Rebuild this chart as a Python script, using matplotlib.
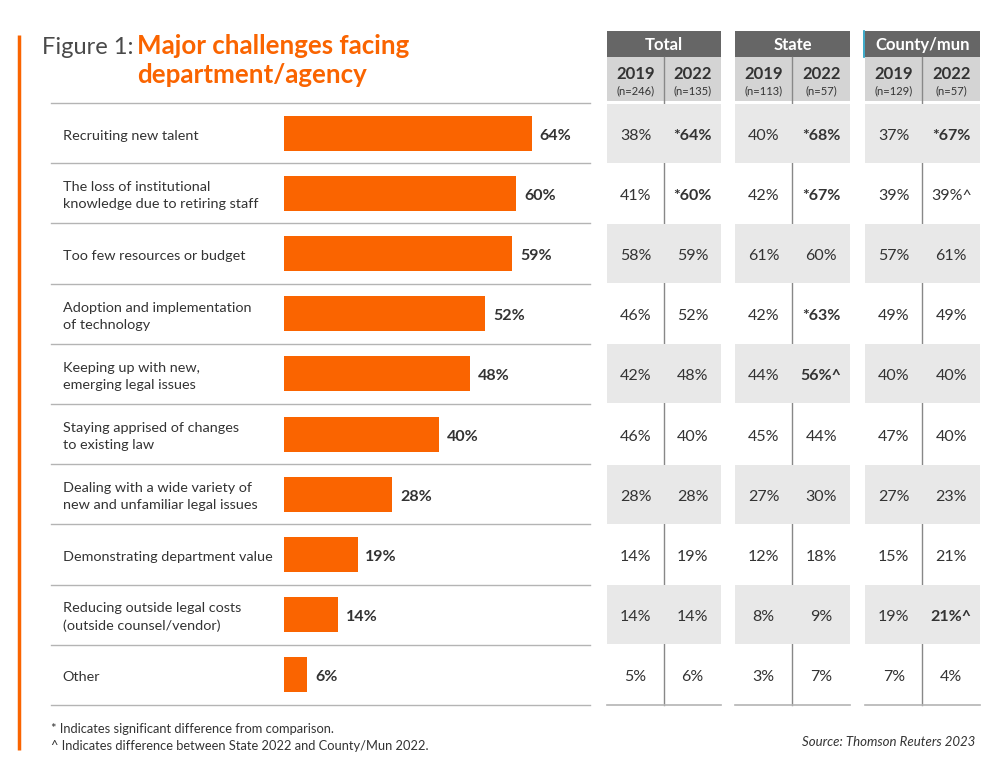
"""Major challenges facing department/agency: bars plus comparison table."""
import matplotlib.pyplot as plt
from matplotlib.patches import Rectangle

# ---- data ----
challenges = [
    "Recruiting new talent",
    "The loss of institutional\nknowledge due to retiring staff",
    "Too few resources or budget",
    "Adoption and implementation\nof technology",
    "Keeping up with new,\nemerging legal issues",
    "Staying apprised of changes\nto existing law",
    "Dealing with a wide variety of\nnew and unfamiliar legal issues",
    "Demonstrating department value",
    "Reducing outside legal costs\n(outside counsel/vendor)",
    "Other",
]
share_2022 = [64, 60, 59, 52, 48, 40, 28, 19, 14, 6]

groups = ["Total", "State", "County/mun"]
years = ["2019", "2022"]
sample_sizes = ["(n=246)", "(n=135)", "(n=113)", "(n=57)", "(n=129)", "(n=57)"]

total_2019 = [38, 41, 58, 46, 42, 46, 28, 14, 14, 5]
total_2022 = [64, 60, 59, 52, 48, 40, 28, 19, 14, 6]
state_2019 = [40, 42, 61, 42, 44, 45, 27, 12, 8, 3]
state_2022 = [68, 67, 60, 63, 56, 44, 30, 18, 9, 7]
county_2019 = [37, 39, 57, 49, 40, 47, 27, 15, 19, 7]
county_2022 = [67, 39, 61, 49, 40, 40, 23, 21, 21, 4]
table_cols = [total_2019, total_2022, state_2019, state_2022, county_2019, county_2022]

# (row, column) -> marker, and which cells are bold
prefix_marks = {(0, 1): "*", (1, 1): "*", (0, 3): "*", (1, 3): "*", (3, 3): "*",
                (0, 5): "*"}
suffix_marks = {(1, 5): "^", (4, 3): "^", (8, 5): "^"}
bold_cells = {(0, 1), (1, 1), (0, 3), (1, 3), (3, 3), (4, 3), (0, 5), (8, 5)}

ORANGE = "#fa6400"
TEXT = "#333333"
LINE = "#b4b4b4"
plt.rcParams["font.family"] = ["Lato", "DejaVu Sans"]

W, H = 1002, 777
fig = plt.figure(figsize=(W / 100, H / 100), dpi=100)


def px_axes(x0, y0, x1, y1):
    """Axes placed by pixel box (top-left origin)."""
    return fig.add_axes([x0 / W, 1 - y1 / H, (x1 - x0) / W, (y1 - y0) / H])


# full-figure canvas for decorations
canvas = px_axes(0, 0, W, H)
canvas.set_xlim(0, W)
canvas.set_ylim(H, 0)
canvas.axis("off")

canvas.plot([19, 19], [35, 750], color=ORANGE, lw=2.5, solid_capstyle="butt")
canvas.text(42, 54, "Figure 1:", fontsize=17, color="#4a4a4a")
canvas.text(137, 54, "Major challenges facing", fontsize=18.6, color=ORANGE,
            fontweight="bold")
canvas.text(137, 83, "department/agency", fontsize=18.6, color=ORANGE,
            fontweight="bold")
canvas.text(51, 733, "* Indicates significant difference from comparison.",
            fontsize=9.3, color=TEXT)
canvas.text(51, 750, "^ Indicates difference between State 2022 and County/Mun 2022.",
            fontsize=9.3, color=TEXT)
canvas.text(975, 746, "Source: Thomson Reuters 2023", fontsize=9.5, color=TEXT,
            style="italic", ha="right")

# ---- bar section ----
n = len(challenges)
px_per_pct = 3.87
dy = 0.04  # small downward nudge so text sits optically centred
bar_left_px, sect_left, sect_right = 284, 51, 590
ax = px_axes(sect_left, 103, sect_right, 705)
ax.set_xlim(-(bar_left_px - sect_left) / px_per_pct,
            (sect_right - bar_left_px) / px_per_pct)
ax.set_ylim(n - 0.5, -0.5)
ax.axis("off")

rows = list(range(n))
ax.barh(rows, share_2022, height=0.58, color=ORANGE, left=0)
for i in range(n + 1):
    ax.axhline(i - 0.5, color=LINE, lw=1, clip_on=False)
for i, (lab, v) in enumerate(zip(challenges, share_2022)):
    ax.text(v + 2, i + dy, f"{v}%", va="center", ha="left", fontsize=11.5,
            fontweight="bold", color=TEXT)
    ax.text(0.022, i + dy, lab, transform=ax.get_yaxis_transform(), va="center",
            ha="left", fontsize=10.4, color=TEXT, linespacing=1.5)

# ---- table section ----
group_spans = [(607, 721), (735, 850), (865, 980)]
tab = px_axes(600, 103, W, 705)
tab.set_xlim(600, W)
tab.set_ylim(n - 0.5, -0.5)
tab.axis("off")

for g, (x0, x1) in enumerate(group_spans):
    mid = (x0 + x1) / 2
    # header boxes on the canvas
    canvas.add_patch(Rectangle((x0, 31), x1 - x0, 26, color="#666666", lw=0))
    canvas.add_patch(Rectangle((x0, 57), x1 - x0, 44, color="#d4d4d4", lw=0))
    canvas.text(mid, 45, groups[g], ha="center", va="center", fontsize=12,
                fontweight="bold", color="white")
    canvas.plot([mid, mid], [57, 705], color="#888888", lw=1, zorder=3)
    for k in range(2):
        cx = x0 + (x1 - x0) * (0.25 + 0.5 * k)
        canvas.text(cx, 74, years[k], ha="center", va="center", fontsize=12,
                    fontweight="bold", color=TEXT)
        canvas.text(cx, 91, sample_sizes[2 * g + k], ha="center", va="center",
                    fontsize=8, color=TEXT)
    # zebra shading
    for i in range(0, n, 2):
        tab.add_patch(Rectangle((x0, i - 0.49), x1 - x0, 0.98, color="#e8e8e8",
                                lw=0, zorder=0))
    tab.plot([x0, x1], [n - 0.5, n - 0.5], color=LINE, lw=1.2, clip_on=False)
    # cell values
    for k in range(2):
        c = 2 * g + k
        cx = x0 + (x1 - x0) * (0.25 + 0.5 * k)
        for i, v in enumerate(table_cols[c]):
            s = prefix_marks.get((i, c), "") + f"{v}%" + suffix_marks.get((i, c), "")
            tab.text(cx, i + dy, s, ha="center", va="center", fontsize=11.5,
                     color=TEXT,
                     fontweight="bold" if (i, c) in bold_cells else "normal")

canvas.plot([864.5, 864.5], [31, 57], color="#1a9bbf", lw=1.2)

fig.savefig("out.png", dpi=100)
